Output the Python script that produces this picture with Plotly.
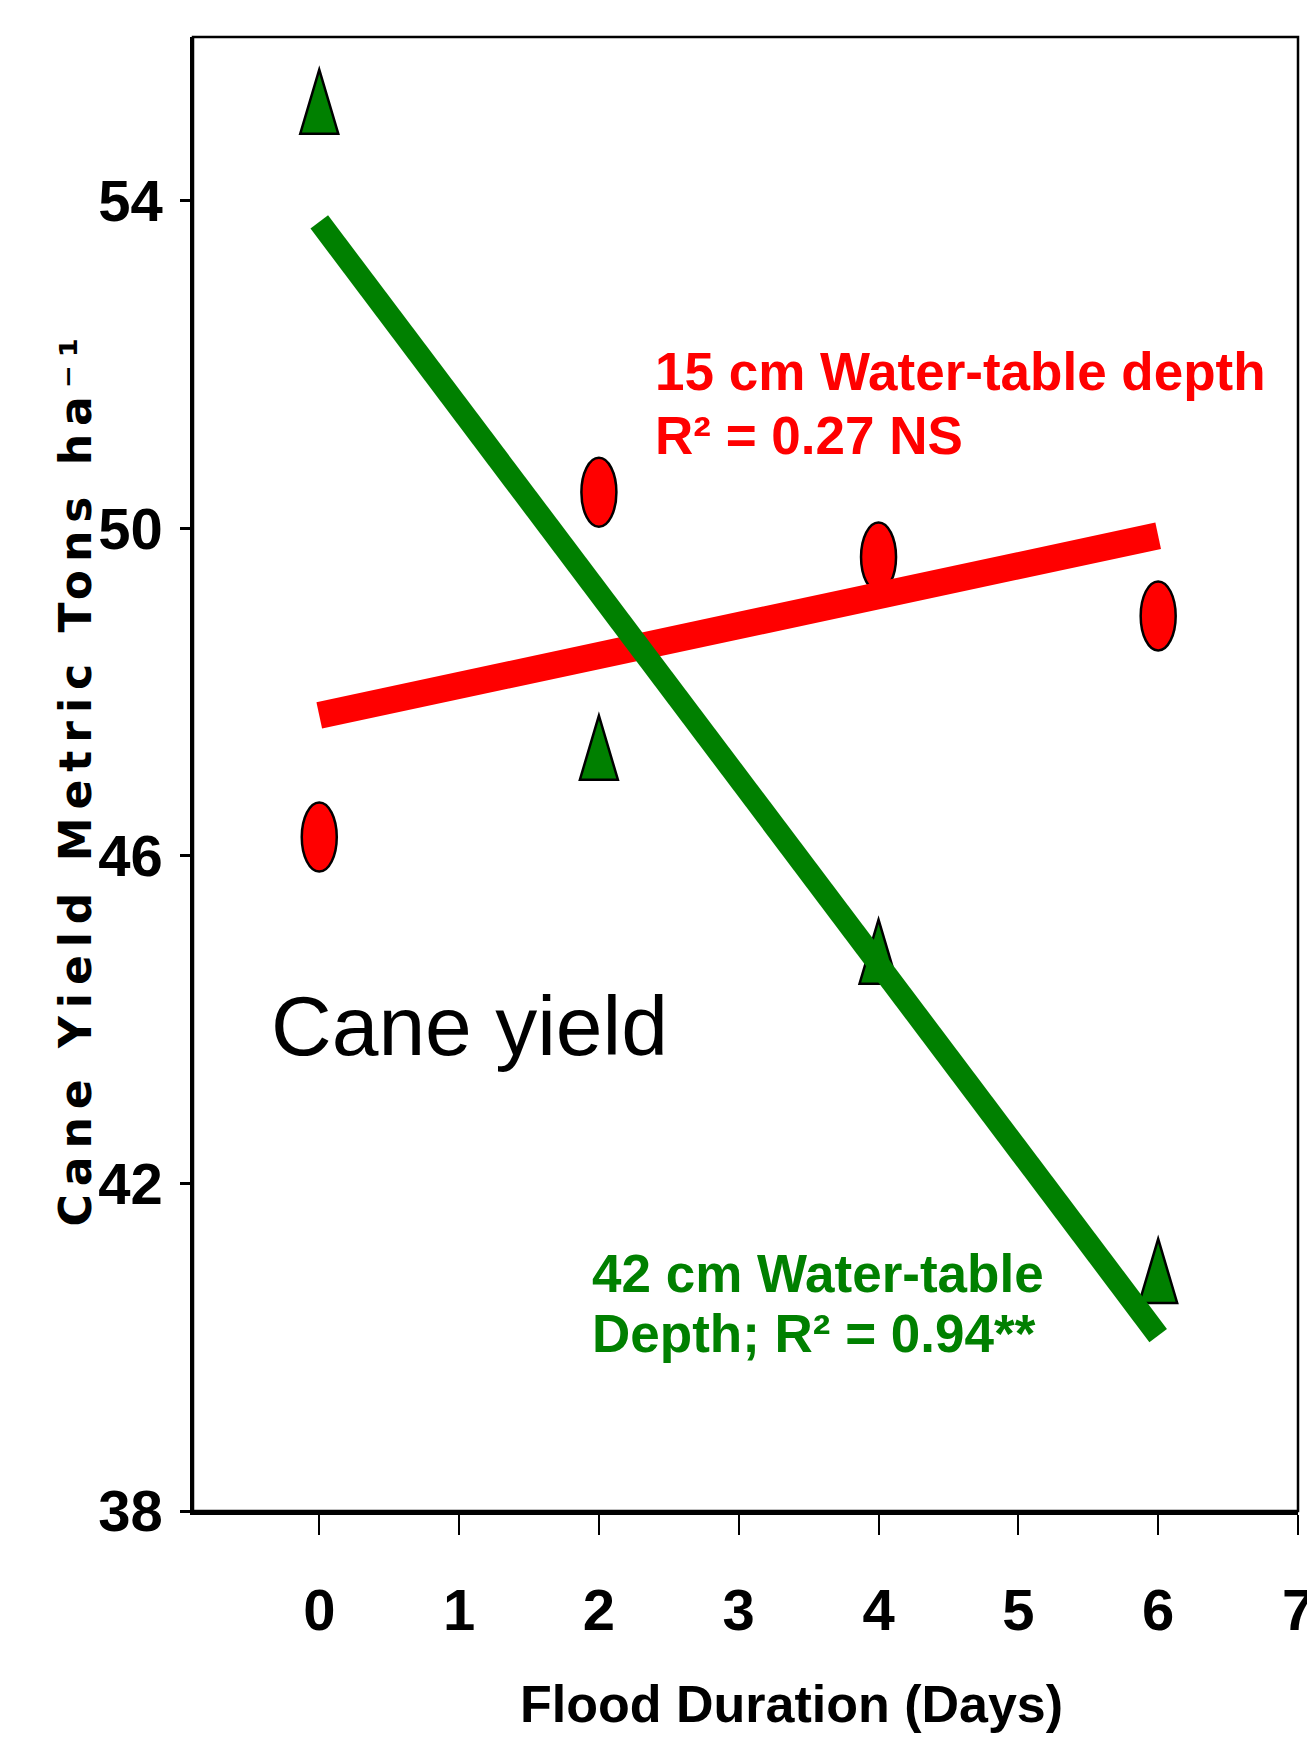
import numpy as np
import plotly.graph_objects as go

# ---------------- data ----------------
flood_days = [0, 2, 4, 6]
yield_15cm = [46.23, 50.44, 49.65, 48.93]   # red ellipses
yield_42cm = [55.08, 47.19, 44.70, 40.80]   # green triangles
x_ticks = [0, 1, 2, 3, 4, 5, 6, 7]
y_ticks = [38, 42, 46, 50, 54]
label_15 = ["15 cm Water-table depth", "R² = 0.27 NS"]
label_42 = ["42 cm Water-table", "Depth; R² = 0.94**"]
panel_label = "Cane yield"
x_title = "Flood Duration (Days)"
y_title = "Cane Yield Metric Tons ha⁻¹"

# ---------------- layout geometry ----------------
W, H = 1307, 1744
L, R, T, B = 193, 9, 37, 233
PW = W - L - R
PH = H - T - B


def pxx(p):
    return (p - L) / PW


def pxy(p):
    return (H - B - p) / PH


RED = "#FF0000"
GREEN = "#008000"
TICK_FONT = "Liberation Sans Narrow, Arial Narrow, Liberation Sans, Arial, sans-serif"
SANS = "Liberation Sans, Arial, sans-serif"

# regression lines from the data
xs_fit = [min(flood_days), max(flood_days)]
c15 = np.polyfit(flood_days, yield_15cm, 1)
c42 = np.polyfit(flood_days, yield_42cm, 1)
fit15 = list(np.polyval(c15, xs_fit))
fit42 = list(np.polyval(c42, xs_fit))

fig = go.Figure()
fig.add_trace(go.Scatter(x=xs_fit, y=fit15, mode="lines",
                         line=dict(color=RED, width=27), showlegend=False,
                         name="15 cm fit"))
fig.add_trace(go.Scatter(x=xs_fit, y=fit42, mode="lines",
                         line=dict(color=GREEN, width=22), showlegend=False,
                         name="42 cm fit"))

shapes = []
# red ellipse markers (pixel-sized, anchored at data values)
for xv, yv in zip(flood_days, yield_15cm):
    shapes.append(dict(type="circle", xref="x", yref="y",
                       xsizemode="pixel", ysizemode="pixel",
                       xanchor=xv, yanchor=yv,
                       x0=-17.5, x1=17.5, y0=-34.5, y1=34.5,
                       fillcolor=RED, line=dict(color="black", width=2.5),
                       layer="below"))
# green tall triangle markers (centroid at data value)
tri_path = "M -19,-21.3 L 19,-21.3 L 0,42.7 Z"
for xv, yv in zip(flood_days, yield_42cm):
    shapes.append(dict(type="path", xref="x", yref="y",
                       xsizemode="pixel", ysizemode="pixel",
                       xanchor=xv, yanchor=yv, path=tri_path,
                       fillcolor=GREEN, line=dict(color="black", width=2.5),
                       layer="below"))
# frame
shapes.append(dict(type="rect", xref="paper", yref="paper", x0=0, x1=1, y0=0, y1=1,
                   line=dict(color="black", width=2.5), layer="above"))

annotations = []
for txt, yc in zip(label_15, [371.6, 435.6]):
    annotations.append(dict(text=txt, xref="paper", yref="paper", x=pxx(653), y=pxy(yc),
                            xanchor="left", yanchor="middle", showarrow=False,
                            font=dict(family=SANS, size=53, color=RED, weight="bold")))
for txt, yc in zip(label_42, [1273.6, 1333.6]):
    annotations.append(dict(text=txt, xref="paper", yref="paper", x=pxx(590), y=pxy(yc),
                            xanchor="left", yanchor="middle", showarrow=False,
                            font=dict(family=SANS, size=53, color=GREEN, weight="bold")))
annotations.append(dict(text=panel_label, xref="paper", yref="paper", x=pxx(269), y=pxy(1026),
                        xanchor="left", yanchor="middle", showarrow=False,
                        font=dict(family=SANS, size=84, color="black")))
annotations.append(dict(text=x_title, xref="paper", yref="paper", x=pxx(791), y=pxy(1704),
                        xanchor="center", yanchor="middle", showarrow=False,
                        font=dict(family=SANS, size=52, color="black", weight="bold")))
annotations.append(dict(text='<span style="letter-spacing:8px">' + y_title + '</span>',
                        xref="paper", yref="paper", x=pxx(74.5), y=pxy(778),
                        xanchor="center", yanchor="middle", showarrow=False, textangle=-90,
                        font=dict(family="DejaVu Sans, Liberation Sans, sans-serif", size=44,
                                  color="black", weight="bold")))

fig.update_layout(
    width=W, height=H,
    margin=dict(l=L, r=R, t=T, b=B, pad=0, autoexpand=False),
    paper_bgcolor="white", plot_bgcolor="white",
    showlegend=False,
    shapes=shapes,
    annotations=annotations,
)
fig.update_xaxes(range=[-0.903, 7], tickvals=x_ticks, ticktext=[str(v) for v in x_ticks],
                 ticks="outside", ticklen=20, tickwidth=2, tickcolor="black",
                 showline=True, linewidth=4, linecolor="black",
                 showgrid=False, zeroline=False, ticklabelstandoff=25,
                 ticklabeloverflow="allow", automargin=False,
                 tickfont=dict(family=TICK_FONT, size=58, color="black", weight="bold"))
fig.update_yaxes(range=[38, 56], tickvals=y_ticks, ticktext=[str(v) for v in y_ticks],
                 ticks="outside", ticklen=10, tickwidth=3, tickcolor="black",
                 showline=True, linewidth=2.5, linecolor="black",
                 showgrid=False, zeroline=False, ticklabelstandoff=6,
                 ticklabeloverflow="allow", automargin=False,
                 tickfont=dict(family=TICK_FONT, size=58, color="black", weight="bold"))

fig.write_html("out.html")
